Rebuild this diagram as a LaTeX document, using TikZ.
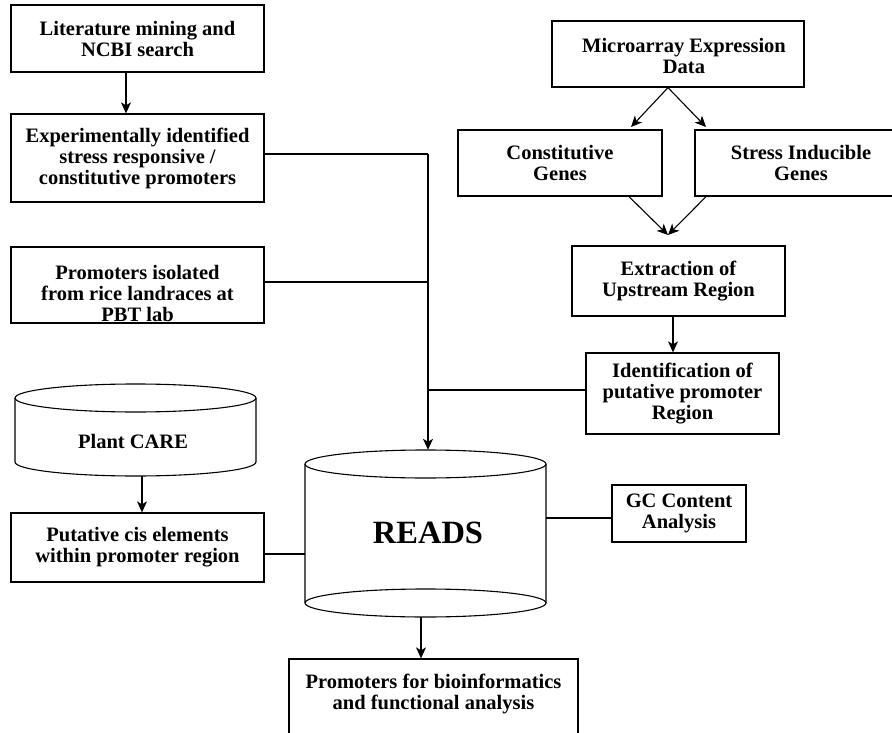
\documentclass[tikz,border=0pt]{standalone}
\usepackage{fontspec}
\setmainfont{Liberation Serif}
\usetikzlibrary{arrows.meta,calc}
\begin{document}
\begin{tikzpicture}[x=1pt,y=-1pt,
  box/.style={draw,line width=1.3pt,inner sep=0pt,align=center,font=\fontsize{20.5}{21}\selectfont\bfseries},
  txt/.style={inner sep=0pt,align=center,font=\fontsize{20.5}{21}\selectfont\bfseries},
  conn/.style={line width=1.1pt},
  arr/.style={conn,-{Stealth[length=11pt,width=10pt,inset=3pt]}},
  cyl/.style={line width=1.1pt}]
\useasboundingbox (0,0) rectangle (892,733);
\clip (0,0) rectangle (892,733);
\fill[white] (0,0) rectangle (892,733);

% left column
\node[box,minimum width=253pt,minimum height=67pt] (lit) at (137.5,38.5) {Literature mining and\\NCBI search};
\node[box,minimum width=253pt,minimum height=88pt] (exp) at (137.5,158) {Experimentally identified\\stress responsive /\\constitutive promoters};
\node[box,minimum width=253pt,minimum height=76pt] (iso) at (137.5,285) {};
\node[txt] (isot) at (137.5,293) {Promoters isolated\\from rice landraces at\\PBT lab};

% Plant CARE cylinder
\draw[cyl,fill=white] (15,398) -- (15,462) arc[start angle=180,end angle=360,x radius=120.5pt,y radius=14pt] -- (256,398);
\draw[cyl] (135.5,398) ellipse[x radius=120.5pt,y radius=14pt];
\node[inner sep=0pt,minimum width=241pt,minimum height=92pt] (care) at (135.5,430) {};
\node[txt] (caret) at (133,441) {Plant CARE};

\node[box,minimum width=253pt,minimum height=69pt] (put) at (137.5,547.5) {Putative cis elements\\within promoter region};

% READS cylinder
\draw[cyl,fill=white] (305,464) -- (305,603) arc[start angle=180,end angle=360,x radius=120.5pt,y radius=14pt] -- (546,464);
\draw[cyl] (425.5,464) ellipse[x radius=120.5pt,y radius=14pt];
\draw[cyl] (305,603) arc[start angle=180,end angle=0,x radius=120.5pt,y radius=14pt];
\node[inner sep=0pt,minimum width=241pt,minimum height=167pt] (reads) at (425.5,533.5) {};
\node[inner sep=0pt,font=\fontsize{32.5}{34}\selectfont\bfseries] (readst) at (428,533) {READS};

% bottom box
\node[draw,line width=1.3pt,inner sep=0pt,minimum width=289pt,minimum height=90pt] (bot) at (433.5,704) {};
\node[txt] (bott) at (433.5,694) {Promoters for bioinformatics\\and functional analysis};

% right column
\node[box,minimum width=252pt,minimum height=66pt] (micro) at (678,54) {};
\node[txt] (microt) at (684,56) {Microarray Expression\\Data};
\node[box,minimum width=204pt,minimum height=66pt] (const) at (560,163) {Constitutive\\Genes};
\node[box,minimum width=212pt,minimum height=66pt] (stress) at (801,163) {Stress Inducible\\Genes};
\node[box,minimum width=213pt,minimum height=70pt] (extr) at (678.5,281) {Extraction of\\Upstream Region};
\node[box,minimum width=193pt,minimum height=81pt] (ident) at (682.5,393.5) {Identification of\\putative promoter\\Region};
\node[box,minimum width=134pt,minimum height=57pt] (gc) at (679,513.5) {GC Content\\Analysis};

% junction coordinates
\coordinate (j1) at (428,154);
\coordinate (j2) at (428,282);
\coordinate (j3) at (428,390);
\coordinate (mtop) at (668,87);
\coordinate (a1) at (631,127);
\coordinate (a2) at (706,127);
\coordinate (mrg) at (668,235);

% connectors
\draw[arr] (lit.south -| 126,0) -- (exp.north -| 126,0);
\draw[conn] (exp.east |- j1) -- (j1);
\draw[arr] (j1) -- (reads.north -| j1);
\draw[conn] (iso.east |- j2) -- (j2);
\draw[conn] (ident.west |- j3) -- (j3);
\draw[arr] (care.south -| 142,0) -- (put.north -| 142,0);
\draw[conn] (put.east |- 0,554) -- (reads.west |- 0,554);
\draw[conn] (reads.east |- 0,518) -- (gc.west |- 0,518);
\draw[arr] (reads.south -| 421,0) -- (bot.north -| 421,0);
\draw[arr] (micro.south -| mtop) -- (a1);
\draw[arr] (micro.south -| mtop) -- (a2);
\draw[arr] (const.south -| 629,0) -- (mrg);
\draw[arr] (stress.south -| 706,0) -- (mrg);
\draw[arr] (extr.south -| 673,0) -- (ident.north -| 673,0);
\end{tikzpicture}
\end{document}
